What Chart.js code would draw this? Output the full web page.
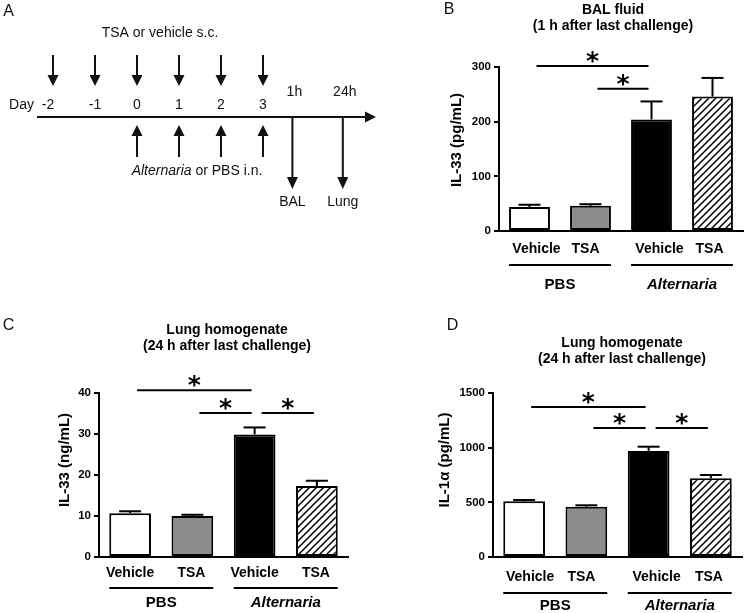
<!DOCTYPE html>
<html><head><meta charset="utf-8">
<script src="https://cdn.jsdelivr.net/npm/chart.js@4.4.0/dist/chart.umd.min.js"></script>
<style>
html,body{margin:0;padding:0;background:#fff;}
#wrap{position:relative;width:748px;height:613px;overflow:hidden;background:#fff;}
#wrap canvas{position:absolute;}
</style></head><body><div id="wrap">
<canvas id="cA" width="380" height="300" style="left:0;top:0"></canvas>
<canvas id="cB" width="368" height="300" style="left:380px;top:0"></canvas>
<canvas id="cC" width="380" height="313" style="left:0;top:300px"></canvas>
<canvas id="cD" width="368" height="313" style="left:380px;top:300px"></canvas>
</div>
<script>
// ---------- Data ----------
// Panel A timeline
const dayLabels = ['-2', '-1', '0', '1', '2', '3'];
const dayValues = [-2, -1, 0, 1, 2, 3];
const tsaDays = [-2, -1, 0, 1, 2, 3];
const challengeDays = [0, 1, 2, 3];
const sampleLabels = ['1h', '24h'];
const sampleTimes = [3.7, 4.9];
const sampleNames = ['BAL', 'Lung'];

// Bar panels
const categories = ['Vehicle', 'TSA', 'Vehicle', 'TSA'];
const groups = ['PBS', 'Alternaria'];
const groupItalic = [false, true];

const bValues = [44, 46, 204, 246];
const bErrors = [4, 3, 33, 34];
const bSigFrom = [0, 1];
const bSigTo = [2, 2];
const bSigAt = [302, 260];

const cValues = [10.7, 10.0, 29.9, 17.3];
const cErrors = [0.45, 0.3, 1.7, 1.3];
const cSigFrom = [0, 1, 2];
const cSigTo = [2, 2, 3];
const cSigAt = [40.7, 35.1, 35.1];

const dValues = [509, 460, 969, 720];
const dErrors = [12, 13, 40, 30];
const dSigFrom = [0, 1, 2];
const dSigTo = [2, 2, 3];
const dSigAt = [1372, 1180, 1180];

// ---------- Style ----------
const FONT = '"Liberation Sans", Arial, Helvetica, sans-serif';
Chart.defaults.font.family = FONT;
Chart.defaults.color = '#000';

function hatchPattern() {
  const s = 7;
  const c = document.createElement('canvas');
  c.width = s; c.height = s;
  const g = c.getContext('2d');
  g.fillStyle = '#fff'; g.fillRect(0, 0, s, s);
  g.strokeStyle = '#000'; g.lineWidth = 1.5;
  g.beginPath();
  g.moveTo(-1, s + 1); g.lineTo(s + 1, -1);
  g.moveTo(-1, 1); g.lineTo(1, -1);
  g.moveTo(s - 1, s + 1); g.lineTo(s + 1, s - 1);
  g.stroke();
  return document.getElementById('cB').getContext('2d').createPattern(c, 'repeat');
}
const fills = ['#ffffff', '#8c8c8c', '#000000', hatchPattern()];

function line(ctx, x1, y1, x2, y2) {
  ctx.beginPath(); ctx.moveTo(x1, y1); ctx.lineTo(x2, y2); ctx.stroke();
}

// ---------- Panel A (timeline) ----------
const timelinePlugin = {
  id: 'timeline',
  afterDraw(chart) {
    const ctx = chart.ctx;
    const xs = chart.scales.x, ys = chart.scales.y;
    const px = v => xs.getPixelForValue(v);
    const py = v => ys.getPixelForValue(v);
    ctx.save();
    ctx.fillStyle = '#111'; ctx.strokeStyle = '#111'; ctx.lineWidth = 2;
    ctx.textBaseline = 'middle';
    ctx.font = '16px ' + FONT; ctx.textAlign = 'center';
    ctx.fillText('A', 8.5, py(12));
    ctx.font = '14px ' + FONT;
    const tsaCenter = (px(tsaDays[0]) + px(tsaDays[tsaDays.length - 1])) / 2;
    ctx.fillText('TSA or vehicle s.c.', tsaCenter + 2, py(33));
    tsaDays.forEach(d => {
      const x = px(d);
      line(ctx, x, py(55), x, py(76));
      ctx.beginPath(); ctx.moveTo(x - 5.5, py(75)); ctx.lineTo(x + 5.5, py(75)); ctx.lineTo(x, py(86)); ctx.closePath(); ctx.fill();
    });
    dayValues.forEach((d, i) => {
      ctx.textAlign = 'center';
      ctx.fillText(dayLabels[i], px(d) + (i === 0 ? -5 : 0), py(105));
    });
    ctx.textAlign = 'right';
    ctx.fillText('Day', px(dayValues[0]) - 19, py(105));
    ctx.textAlign = 'center';
    sampleTimes.forEach((t, i) => ctx.fillText(sampleLabels[i], px(t) + 2, py(92)));
    const ax0 = px(dayValues[0]) - 16, ax1 = chart.chartArea.right - 4;
    line(ctx, ax0, py(117), ax1 - 10, py(117));
    ctx.beginPath(); ctx.moveTo(ax1 - 11, py(117) - 5.5); ctx.lineTo(ax1, py(117)); ctx.lineTo(ax1 - 11, py(117) + 5.5); ctx.closePath(); ctx.fill();
    challengeDays.forEach(d => {
      const x = px(d);
      line(ctx, x, py(157), x, py(135));
      ctx.beginPath(); ctx.moveTo(x - 5.5, py(136)); ctx.lineTo(x + 5.5, py(136)); ctx.lineTo(x, py(125)); ctx.closePath(); ctx.fill();
    });
    const cc = (px(challengeDays[0]) + px(challengeDays[challengeDays.length - 1])) / 2 - 3;
    ctx.font = 'italic 14px ' + FONT;
    const w1 = ctx.measureText('Alternaria').width;
    ctx.font = '14px ' + FONT;
    const w2 = ctx.measureText(' or PBS i.n.').width;
    const sx = cc - (w1 + w2) / 2;
    ctx.textAlign = 'left';
    ctx.font = 'italic 14px ' + FONT;
    ctx.fillText('Alternaria', sx, py(171));
    ctx.font = '14px ' + FONT;
    ctx.fillText(' or PBS i.n.', sx + w1, py(171));
    ctx.textAlign = 'center';
    sampleTimes.forEach((t, i) => {
      const x = px(t);
      line(ctx, x, py(117), x, py(178));
      ctx.beginPath(); ctx.moveTo(x - 5.5, py(177)); ctx.lineTo(x + 5.5, py(177)); ctx.lineTo(x, py(189)); ctx.closePath(); ctx.fill();
      ctx.fillText(sampleNames[i], x, py(202));
    });
    ctx.restore();
  }
};

new Chart(document.getElementById('cA'), {
  type: 'scatter',
  data: { datasets: [{ data: tsaDays.map(d => ({ x: d, y: 117 })), pointRadius: 0 }] },
  options: {
    responsive: false, animation: false, events: [],
    layout: { padding: 0 },
    plugins: { legend: { display: false }, tooltip: { enabled: false } },
    scales: {
      x: { type: 'linear', min: -3.262, max: 5.786, display: false },
      y: { type: 'linear', min: 0, max: 300, reverse: true, display: false }
    }
  },
  plugins: [timelinePlugin]
});

// ---------- Bar panels ----------
function makeAnnot(P) {
  return {
    id: 'annot' + P.letter,
    afterDatasetsDraw(chart) {
      const ctx = chart.ctx;
      const ys = chart.scales.y;
      const area = chart.chartArea;
      const meta = chart.getDatasetMeta(0);
      ctx.save();
      ctx.strokeStyle = '#000'; ctx.fillStyle = '#000'; ctx.lineWidth = 2;
      meta.data.forEach((bar, i) => {
        const yb = ys.getPixelForValue(P.values[i]);
        const yt = ys.getPixelForValue(P.values[i] + P.errors[i]);
        line(ctx, bar.x, yb, bar.x, yt);
        line(ctx, bar.x - 11, yt, bar.x + 11, yt);
      });
      P.sigFrom.forEach((f, k) => {
        const x1 = meta.data[f].x + 7, x2 = meta.data[P.sigTo[k]].x - 3;
        const yy = ys.getPixelForValue(P.sigAt[k]);
        line(ctx, x1, yy, x2, yy);
        ctx.font = 'bold 25px "DejaVu Sans"';
        ctx.textAlign = 'center'; ctx.textBaseline = 'alphabetic';
        ctx.fillText('*', (x1 + x2) / 2, yy - 12 + 15);
      });
      ctx.textBaseline = 'middle'; ctx.textAlign = 'center';
      ctx.font = 'bold 14px ' + FONT;
      meta.data.forEach((bar, i) => {
        ctx.fillText(categories[i], bar.x + P.labelShift[i], area.bottom + P.labelDy);
      });
      groups.forEach((g, k) => {
        const a = meta.data[2 * k], b = meta.data[2 * k + 1];
        const x1 = a.x - a.width / 2, x2 = b.x + b.width / 2;
        const yy = area.bottom + P.lineDy;
        line(ctx, x1, yy, x2, yy);
        ctx.font = (groupItalic[k] ? 'italic ' : '') + 'bold 15px ' + FONT;
        ctx.fillText(g, (x1 + x2) / 2, area.bottom + P.groupDy);
      });
      ctx.font = 'bold 14px ' + FONT;
      P.title.forEach((t, k) => ctx.fillText(t, P.titleX, P.titleY[k]));
      ctx.save();
      ctx.translate(P.yTitleX, P.yTitleY);
      ctx.rotate(-Math.PI / 2);
      ctx.font = 'bold 15px ' + FONT;
      ctx.fillText(P.yTitle, 0, 0);
      ctx.restore();
      ctx.font = '16px ' + FONT;
      ctx.fillStyle = '#111';
      ctx.fillText(P.letter, P.letterPos[0], P.letterPos[1]);
      ctx.restore();
    }
  };
}

function barPanel(id, P) {
  new Chart(document.getElementById(id), {
    type: 'bar',
    data: {
      labels: categories,
      datasets: [{
        data: P.values, backgroundColor: fills, borderColor: '#000', borderWidth: 2,
        borderSkipped: false, categoryPercentage: 1, barPercentage: 0.67
      }]
    },
    options: {
      responsive: false, animation: false, events: [],
      layout: { padding: { left: 0, top: P.area.top, right: P.w - P.area.right, bottom: P.h - P.area.bottom } },
      plugins: { legend: { display: false }, tooltip: { enabled: false }, title: { display: false } },
      scales: {
        x: {
          grid: { display: false }, ticks: { display: false },
          border: { display: true, color: '#000', width: 2 },
          afterFit: s => { s.height = 0; }
        },
        y: {
          min: 0, max: P.max,
          ticks: { stepSize: P.step, color: '#000', padding: 3, font: { family: FONT, size: 11.5, weight: 'bold' }, callback: v => String(v) },
          grid: { display: true, drawOnChartArea: false, drawTicks: true, tickLength: 5, lineWidth: 2, color: '#000' },
          border: { display: true, color: '#000', width: 2 },
          afterFit: s => { s.width = P.area.left; }
        }
      }
    },
    plugins: [makeAnnot(P)]
  });
}

barPanel('cB', {
  letter: 'B', values: bValues, errors: bErrors, sigFrom: bSigFrom, sigTo: bSigTo, sigAt: bSigAt,
  max: 300, step: 100, w: 368, h: 300,
  area: { left: 119, right: 363, top: 67, bottom: 231 },
  title: ['BAL fluid', '(1 h after last challenge)'], titleX: 233, titleY: [10, 26],
  yTitle: 'IL-33 (pg/mL)', yTitleX: 77, yTitleY: 140,
  labelDy: 18, lineDy: 34, groupDy: 54, labelShift: [7, -5, 8, -3], letterPos: [69, 10]
});
barPanel('cC', {
  letter: 'C', values: cValues, errors: cErrors, sigFrom: cSigFrom, sigTo: cSigTo, sigAt: cSigAt,
  max: 40, step: 10, w: 380, h: 313,
  area: { left: 99, right: 348, top: 93, bottom: 257 },
  title: ['Lung homogenate', '(24 h after last challenge)'], titleX: 227, titleY: [30, 46],
  yTitle: 'IL-33 (ng/mL)', yTitleX: 65, yTitleY: 160,
  labelDy: 16, lineDy: 31, groupDy: 46, labelShift: [0, -1, 0, -1], letterPos: [8.5, 26]
});
barPanel('cD', {
  letter: 'D', values: dValues, errors: dErrors, sigFrom: dSigFrom, sigTo: dSigTo, sigAt: dSigAt,
  max: 1500, step: 500, w: 368, h: 313,
  area: { left: 113, right: 362, top: 93, bottom: 257 },
  title: ['Lung homogenate', '(24 h after last challenge)'], titleX: 242, titleY: [43, 59],
  yTitle: 'IL-1\u03b1 (pg/mL)', yTitleX: 65, yTitleY: 160,
  labelDy: 20, lineDy: 36, groupDy: 49, labelShift: [6, -5, 8, -2], letterPos: [72.5, 26]
});
</script>
</body></html>
